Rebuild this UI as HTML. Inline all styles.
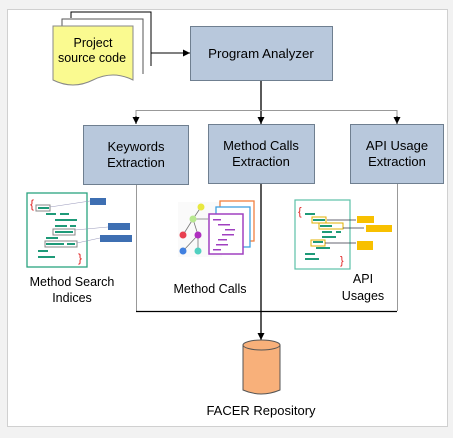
<!DOCTYPE html>
<html><head><style>
body{margin:0;width:453px;height:433px;background:#f2f2f2;font-family:"Liberation Sans",sans-serif;overflow:hidden}
</style></head><body>
<svg width="453" height="433" viewBox="0 0 453 433" xmlns="http://www.w3.org/2000/svg" font-family="Liberation Sans, sans-serif">
<rect x="7.5" y="9.5" width="440" height="417" fill="#fff" stroke="#d0d0d0"/>
<defs><marker id="a" markerWidth="8" markerHeight="8" refX="7" refY="4" orient="auto" markerUnits="userSpaceOnUse"><path d="M0,0.5 L7,4 L0,7.5z" fill="#000"/></marker></defs>
<path d="M71,18 V12 H151 V66" fill="none" stroke="#000"/>
<path d="M62,26 V19 H143 V74" fill="#fff" stroke="#555"/>
<path d="M53,26 H133 V80 Q113,70 93,80 T53,80 Z" fill="#fafa90" stroke="#888"/>
<text x="93" y="47" font-size="12.5" text-anchor="middle">Project</text>
<text x="92" y="62" font-size="12.5" text-anchor="middle">source code</text>
<line x1="151" y1="53" x2="190" y2="53" stroke="#000" marker-end="url(#a)"/>
<rect x="190.5" y="26.5" width="142" height="54" fill="#b8c8dc" stroke="#6f7f90"/>
<text x="261" y="58" font-size="13.3" text-anchor="middle">Program Analyzer</text>
<line x1="261" y1="81" x2="261" y2="124" stroke="#000" stroke-width="1.3" marker-end="url(#a)"/>
<path d="M136,124 V110.5 H397 V124" fill="none" stroke="#999"/>
<line x1="136" y1="116" x2="136" y2="124" stroke="#000" marker-end="url(#a)"/>
<line x1="397" y1="116" x2="397" y2="124" stroke="#000" marker-end="url(#a)"/>
<rect x="83.5" y="125.5" width="105" height="59" fill="#b8c8dc" stroke="#6f7f90"/>
<text x="136" y="151" font-size="13" text-anchor="middle">Keywords</text>
<text x="136" y="167" font-size="13" text-anchor="middle">Extraction</text>
<rect x="208.5" y="124.5" width="106" height="59" fill="#b8c8dc" stroke="#6f7f90"/>
<text x="261" y="150" font-size="13" text-anchor="middle">Method Calls</text>
<text x="261" y="166" font-size="13" text-anchor="middle">Extraction</text>
<rect x="350.5" y="124.5" width="93" height="59" fill="#b8c8dc" stroke="#6f7f90"/>
<text x="397" y="150" font-size="13" text-anchor="middle">API Usage</text>
<text x="397" y="166" font-size="13" text-anchor="middle">Extraction</text>
<path d="M136.5,185 V311 M397.5,184 V311" stroke="#999" fill="none"/>
<line x1="136" y1="311.5" x2="397" y2="311.5" stroke="#000" stroke-width="1.2"/>
<line x1="261" y1="184" x2="261" y2="340" stroke="#000" stroke-width="1.3" marker-end="url(#a)"/>
<path d="M243,345 V390 Q261,398 280,390 V345" fill="#f8b07a" stroke="#555"/>
<ellipse cx="261.5" cy="345" rx="18.5" ry="5" fill="#f8b07a" stroke="#555"/>
<text x="261" y="415" font-size="13" text-anchor="middle">FACER Repository</text>
<rect x="27" y="193" width="60" height="74" fill="#fff" stroke="#2aa37f" stroke-width="1.3"/>
<text x="30" y="208" font-size="12" fill="#e02020">{</text>
<text x="78" y="262" font-size="12" fill="#e02020">}</text>
<g fill="#1e9a78">
<rect x="38" y="207" width="11" height="2"/><rect x="46" y="213" width="10" height="2"/><rect x="60" y="213" width="9" height="2"/>
<rect x="55" y="219" width="22" height="2"/><rect x="55" y="225" width="12" height="2"/><rect x="70" y="225" width="6" height="2"/>
<rect x="55" y="231" width="18" height="2"/><rect x="46" y="237" width="12" height="2"/><rect x="46" y="243" width="18" height="2"/><rect x="67" y="243" width="8" height="2"/>
<rect x="38" y="250" width="10" height="2"/><rect x="38" y="256" width="17" height="2"/></g>
<rect x="36" y="205" width="14" height="6" fill="none" stroke="#888"/><rect x="53" y="229" width="22" height="6" fill="none" stroke="#888"/><rect x="45" y="241" width="32" height="6" fill="none" stroke="#888"/>
<path d="M50,207 L90,201 M75,230 L108,227 M77,243 L100,238" stroke="#99b" stroke-width="0.6"/>
<g fill="#3e6fb2"><rect x="90" y="198" width="16" height="7"/><rect x="108" y="223" width="22" height="7"/><rect x="100" y="235" width="32" height="7"/></g>
<text x="72" y="286" font-size="12.5" text-anchor="middle">Method Search</text>
<text x="72" y="302" font-size="12.5" text-anchor="middle">Indices</text>
<rect x="178" y="202" width="44" height="55" fill="#fafafa"/>
<path d="M201,207 L193,219 L183,235 M193,219 L198,235 L183,251 M198,235 L198,251 M193,219 L208,219" stroke="#777" stroke-width="0.8" fill="none"/>
<circle cx="201" cy="207" r="3.5" fill="#e8e840"/><circle cx="193" cy="219" r="3.5" fill="#b8e890"/>
<circle cx="183" cy="235" r="3.5" fill="#e84050"/><circle cx="198" cy="235" r="3.5" fill="#b030c0"/>
<circle cx="183" cy="251" r="3.5" fill="#4080e0"/><circle cx="198" cy="251" r="3.5" fill="#50d0c0"/>
<rect x="220" y="201" width="34" height="40" fill="#fff" stroke="#f08040" stroke-width="1.3"/>
<rect x="216" y="207" width="34" height="40" fill="#fff" stroke="#40a0e0" stroke-width="1.3"/>
<rect x="209" y="214" width="34" height="40" fill="#fff" stroke="#a040c0" stroke-width="1.5"/>
<g fill="#a040c0"><rect x="213" y="219" width="8" height="1.5"/><rect x="218" y="224" width="12" height="1.5"/><rect x="225" y="229" width="10" height="1.5"/><rect x="222" y="234" width="12" height="1.5"/><rect x="218" y="239" width="9" height="1.5"/><rect x="216" y="244" width="12" height="1.5"/><rect x="213" y="249" width="8" height="1.5"/></g>
<text x="210" y="293" font-size="12.5" text-anchor="middle">Method Calls</text>
<rect x="295" y="200" width="55" height="69" fill="#fff" stroke="#5cc0a8" stroke-width="1.2"/>
<text x="298" y="215" font-size="11" fill="#e02020">{</text>
<text x="340" y="264" font-size="11" fill="#e02020">}</text>
<g fill="#1e9a78"><rect x="305" y="213" width="10" height="2"/><rect x="313" y="219" width="12" height="2"/><rect x="320" y="225" width="12" height="2"/><rect x="322" y="231" width="10" height="2"/><rect x="336" y="231" width="5" height="2"/><rect x="322" y="236" width="14" height="2"/><rect x="313" y="241" width="10" height="2"/><rect x="316" y="247" width="14" height="2"/><rect x="305" y="253" width="10" height="2"/><rect x="305" y="258" width="14" height="2"/></g>
<rect x="312" y="217" width="14" height="6" fill="none" stroke="#e0b000"/><rect x="319" y="223" width="24" height="6" fill="none" stroke="#e0b000"/><rect x="311" y="240" width="14" height="6" fill="none" stroke="#e0b000"/>
<path d="M327,220 H356 M343,228 H364 M325,243 H356" stroke="#334" stroke-width="0.8"/>
<g fill="#f8c000"><rect x="357" y="216" width="17" height="7"/><rect x="366" y="225" width="26" height="7"/><rect x="357" y="241" width="16" height="9"/></g>
<text x="363" y="283" font-size="12.5" text-anchor="middle">API</text>
<text x="363" y="300" font-size="12.5" text-anchor="middle">Usages</text>
</svg>
</body></html>
